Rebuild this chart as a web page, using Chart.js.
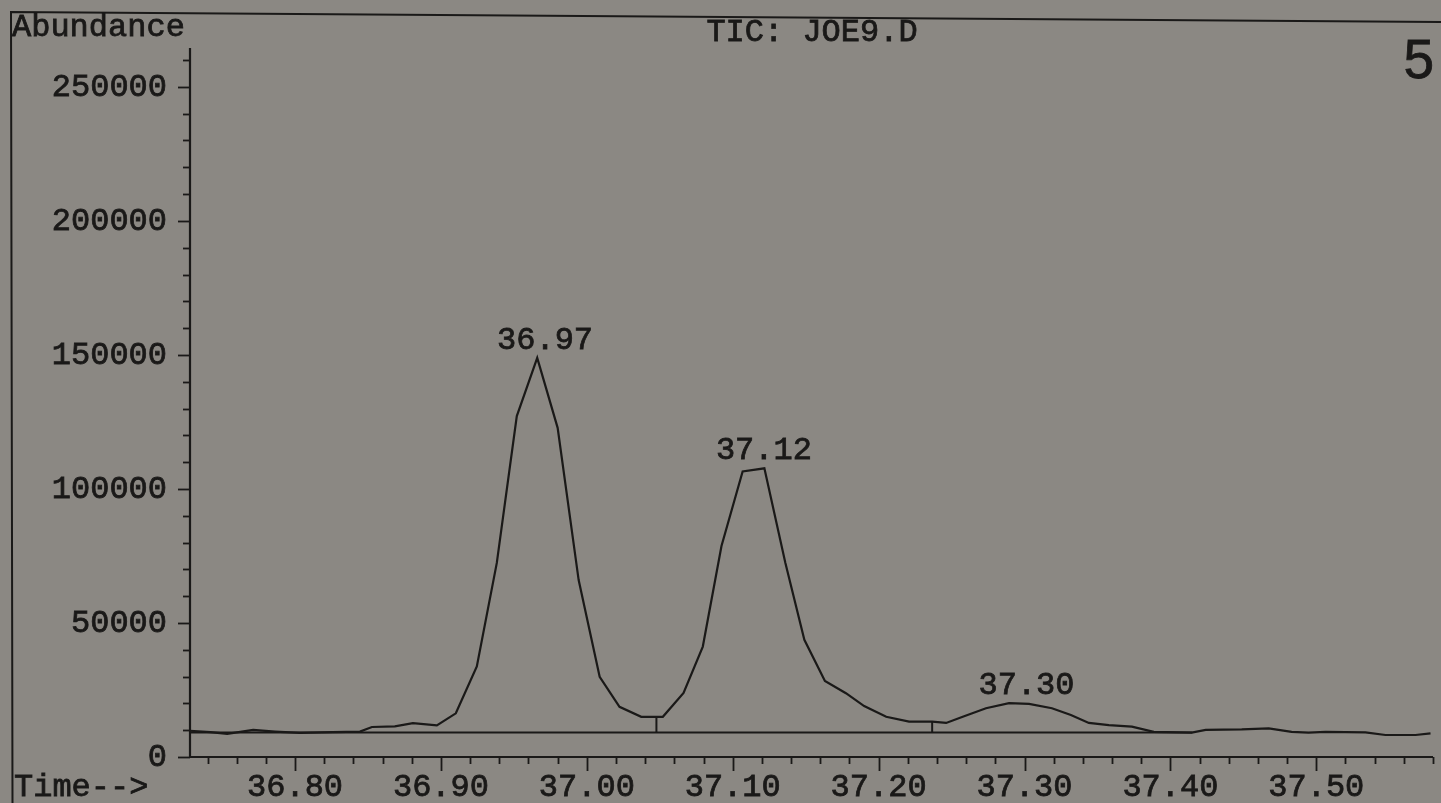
<!DOCTYPE html>
<html>
<head>
<meta charset="utf-8">
<title>TIC: JOE9.D</title>
<script src="https://cdn.jsdelivr.net/npm/chart.js@4"></script>
<style>
  html, body { margin: 0; padding: 0; background: #8b8883; }
  #wrap { width: 1441px; height: 803px; position: relative; }
  canvas { display: block; }
</style>
</head>
<body>
<div id="wrap"><canvas id="tic" width="1441" height="803"></canvas></div>
<script>
// Total ion chromatogram, retention time (min) vs abundance
const times = [
  36.728, 36.742, 36.7535, 36.7713, 36.7863, 36.8034, 36.826, 36.8445, 36.8527, 36.8684,
  36.8808, 36.8972, 36.9102, 36.9246, 36.9383, 36.952, 36.966, 36.980, 36.9944, 37.0088,
  37.0224, 37.0373, 37.0521, 37.0663, 37.0795, 37.0923, 37.1068, 37.1217, 37.1361, 37.1491,
  37.1632, 37.1776, 37.1901, 37.2052, 37.2209, 37.2367, 37.2463, 37.2572, 37.2736, 37.2894,
  37.3031, 37.3188, 37.3318, 37.3441, 37.3578, 37.3736, 37.3886, 37.4146, 37.4242, 37.4489,
  37.4674, 37.4831, 37.4947, 37.5064, 37.5337, 37.5474, 37.5680, 37.5783
];
const abundance = [
  9800, 9300, 8600, 10100, 9500, 9000, 9300, 9500, 11200, 11400,
  12600, 11800, 16300, 33800, 72400, 127200, 148900, 122800, 66000, 29900,
  18700, 15000, 15000, 23900, 41200, 78700, 106500, 107700, 72400, 43700,
  28400, 23800, 19000, 15000, 13200, 13200, 12700, 14900, 18200, 20100,
  19800, 18200, 15700, 12700, 11900, 11300, 9400, 9100, 10100, 10300,
  10700, 9400, 9100, 9400, 9200, 8200, 8200, 8800
];

// Integrated peaks
const peakTimes = [36.97, 37.12, 37.30];
const peakLabels = ['36.97', '37.12', '37.30'];
const dropTimes = [37.0477, 37.2367];
const integrationBaseline = 9100;
const baselineRange = [36.728, 37.415];

// Axes
const xRange = [36.728, 37.58];
const yRange = [0, 264500];
const xTickLabels = ['36.80', '36.90', '37.00', '37.10', '37.20', '37.30', '37.40', '37.50'];
const yTickLabels = ['0', '50000', '100000', '150000', '200000', '250000'];

const INK = '#1a1918';
const MONO = '"Liberation Mono", "Courier New", monospace';

function traceAt(t) {
  for (let i = 0; i < times.length - 1; i++) {
    if (t >= times[i] && t <= times[i + 1]) {
      const f = (t - times[i]) / (times[i + 1] - times[i]);
      return abundance[i] + f * (abundance[i + 1] - abundance[i]);
    }
  }
  return abundance[abundance.length - 1];
}

function apexNear(t) {
  let best = 0;
  times.forEach((tt, i) => { if (Math.abs(tt - t) < 0.012) best = Math.max(best, abundance[i]); });
  return best;
}

// printed text: fill plus a thin outline for a heavier stroke
function ink(ctx, text, x, y) {
  ctx.fillText(text, x, y);
  ctx.strokeText(text, x, y);
}

const decorations = {
  id: 'decorations',
  beforeDatasetsDraw(chart) {
    const ctx = chart.ctx;
    const xs = chart.scales.x, ys = chart.scales.y;
    const area = chart.chartArea;
    ctx.save();
    ctx.strokeStyle = INK;
    ctx.fillStyle = INK;
    ctx.lineCap = 'butt';

    // page frame
    ctx.lineWidth = 2;
    ctx.beginPath();
    ctx.moveTo(1441, 22);
    ctx.lineTo(11, 12);
    ctx.lineTo(12.5, 803);
    ctx.stroke();

    const y0 = ys.getPixelForValue(0);
    // y axis line
    ctx.lineWidth = 2.2;
    ctx.beginPath();
    ctx.moveTo(area.left, area.top);
    ctx.lineTo(area.left, y0);
    ctx.stroke();
    // x axis line
    ctx.beginPath();
    ctx.moveTo(area.left, y0);
    ctx.lineTo(area.right, y0);
    ctx.stroke();

    // y ticks: minor every 10000, major every 50000
    ctx.lineWidth = 1.8;
    for (let v = 0; v <= yRange[1]; v += 10000) {
      const py = Math.round(ys.getPixelForValue(v)) + 0.5;
      const major = v % 50000 === 0;
      ctx.beginPath();
      ctx.moveTo(area.left - (major ? 12 : 7), py);
      ctx.lineTo(area.left, py);
      ctx.stroke();
    }
    // x ticks: minor every 0.02, major every 0.10
    for (let i = Math.ceil(xRange[0] / 0.02 - 1e-6); i * 0.02 <= xRange[1] + 1e-6; i++) {
      const px = Math.round(xs.getPixelForValue(i * 0.02)) + 0.5;
      const major = i % 5 === 0;
      ctx.beginPath();
      ctx.moveTo(px, y0);
      ctx.lineTo(px, y0 + (major ? 14 : 7));
      ctx.stroke();
    }

    // tick labels
    ctx.lineWidth = 0.8;
    ctx.font = '32px ' + MONO;
    ctx.textAlign = 'right';
    ctx.textBaseline = 'middle';
    yTickLabels.forEach(lbl => {
      ink(ctx, lbl, area.left - 23, ys.getPixelForValue(parseFloat(lbl)) + 1);
    });
    ctx.textAlign = 'center';
    ctx.textBaseline = 'alphabetic';
    xTickLabels.forEach(lbl => {
      ink(ctx, lbl, xs.getPixelForValue(parseFloat(lbl)), 796);
    });

    // axis captions and title
    ctx.textAlign = 'left';
    ink(ctx, 'Abundance', 12, 36);
    ink(ctx, 'Time-->', 14, 796);
    ctx.textAlign = 'center';
    ink(ctx, 'TIC: JOE9.D', 812, 41);

    // page number
    ctx.font = '55px "Liberation Sans", Arial, sans-serif';
    ctx.textAlign = 'right';
    ink(ctx, '5', 1434, 78);

    // integration baseline and peak boundaries
    const yb = ys.getPixelForValue(integrationBaseline);
    ctx.lineWidth = 2;
    ctx.beginPath();
    ctx.moveTo(xs.getPixelForValue(baselineRange[0]), yb);
    ctx.lineTo(xs.getPixelForValue(baselineRange[1]), yb);
    ctx.stroke();
    dropTimes.forEach(t => {
      const px = xs.getPixelForValue(t);
      ctx.beginPath();
      ctx.moveTo(px, yb);
      ctx.lineTo(px, ys.getPixelForValue(traceAt(t)));
      ctx.stroke();
    });

    // retention time labels above each peak
    ctx.lineWidth = 0.8;
    ctx.font = '32px ' + MONO;
    ctx.textAlign = 'center';
    ctx.textBaseline = 'alphabetic';
    peakTimes.forEach((t, i) => {
      const py = ys.getPixelForValue(apexNear(t));
      ink(ctx, peakLabels[i], xs.getPixelForValue(t) + 2, py - 9);
    });
    ctx.restore();
  }
};

new Chart(document.getElementById('tic'), {
  type: 'line',
  data: {
    datasets: [{
      data: times.map((t, i) => ({ x: t, y: abundance[i] })),
      borderColor: INK,
      borderWidth: 2.2,
      pointRadius: 0,
      tension: 0,
      fill: false
    }]
  },
  options: {
    responsive: false,
    animation: false,
    layout: { padding: { left: 190, right: 8, top: 48, bottom: 46 } },
    scales: {
      x: { type: 'linear', min: xRange[0], max: xRange[1], display: false },
      y: { type: 'linear', min: yRange[0], max: yRange[1], display: false }
    },
    plugins: { legend: { display: false }, tooltip: { enabled: false } },
    events: []
  },
  plugins: [decorations]
});
</script>
</body>
</html>
